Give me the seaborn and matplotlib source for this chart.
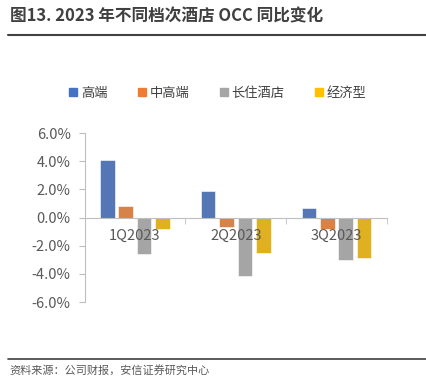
import matplotlib
matplotlib.use("Agg")
import matplotlib.pyplot as plt
import matplotlib.ticker as mticker
import pandas as pd
import seaborn as sns

# Data (YoY change in OCC, %)
quarters = ["1Q2023", "2Q2023", "3Q2023"]
segments = ["高端", "中高端", "长住酒店", "经济型"]
high_end = [4.05, 1.90, 0.70]
upper_mid = [0.80, -0.70, -0.83]
long_stay = [-2.62, -4.18, -3.00]
economy = [-0.85, -2.50, -2.88]
colors = ["#4472C4", "#ED7D31", "#A5A5A5", "#FFC000"]

df = pd.DataFrame({
    "quarter": quarters * 4,
    "segment": [s for s in segments for _ in quarters],
    "value": high_end + upper_mid + long_stay + economy,
})

sns.set_style("white")
plt.rcParams["font.family"] = ["Noto Sans CJK SC", "DejaVu Sans"]

fig = plt.figure(figsize=(4.27, 3.86), dpi=100)
ax = fig.add_axes([0.198, 0.2176, 0.708, 0.4378])

sns.barplot(
    data=df, x="quarter", y="value", hue="segment",
    order=quarters, hue_order=segments, palette=colors,
    width=0.73, gap=0.2, ax=ax, legend=False,
    edgecolor="white", linewidth=0.4,
)

# Axes styling
ax.set_ylim(-6, 6)
ax.set_xlim(-0.5, 2.5)
ax.yaxis.set_major_locator(mticker.MultipleLocator(2))
ax.yaxis.set_major_formatter(mticker.FuncFormatter(lambda v, p: f"{v:.1f}%"))
ax.set_xlabel("")
ax.set_ylabel("")

for side in ["top", "right"]:
    ax.spines[side].set_visible(False)
ax.spines["left"].set_color("#BFBFBF")
ax.spines["bottom"].set_color("#BFBFBF")
ax.spines["bottom"].set_position(("data", 0))

ax.tick_params(axis="y", which="major", left=True, length=4, color="#BFBFBF",
               labelsize=10.5, labelcolor="#595959", pad=6)
ax.tick_params(axis="x", which="major", length=0, labelsize=10.5,
               labelcolor="#595959", pad=8)
ax.xaxis.set_minor_locator(mticker.FixedLocator([-0.5, 0.5, 1.5, 2.5]))
ax.tick_params(axis="x", which="minor", bottom=True, length=4, color="#BFBFBF")
# category labels sit on top of the bars, like the source chart
ax.xaxis.set_zorder(10)

# Legend
handles = [plt.Rectangle((0, 0), 1, 1, color=c) for c in colors]
fig.legend(handles, segments, loc="center", bbox_to_anchor=(0.51, 0.759),
           ncol=4, frameon=False, fontsize=9.5, handlelength=0.6,
           handleheight=0.6, handletextpad=0.3, columnspacing=2.3,
           labelcolor="#404040")

# Title and source
fig.text(0.023, 0.958, "图13. 2023 年不同档次酒店 OCC 同比变化", fontsize=12,
         fontweight="bold", color="#404040", va="center", ha="left")
fig.add_artist(plt.Line2D([0.019, 1.0], [0.910, 0.910], color="#404040",
                          linewidth=1.5, transform=fig.transFigure))
fig.add_artist(plt.Line2D([0.019, 1.0], [0.070, 0.070], color="#404040",
                          linewidth=1.2, transform=fig.transFigure))
fig.text(0.023, 0.040, "资料来源：公司财报，安信证券研究中心", fontsize=8,
         style="italic", color="#595959", va="center", ha="left")

fig.savefig("out.png", dpi=100)
